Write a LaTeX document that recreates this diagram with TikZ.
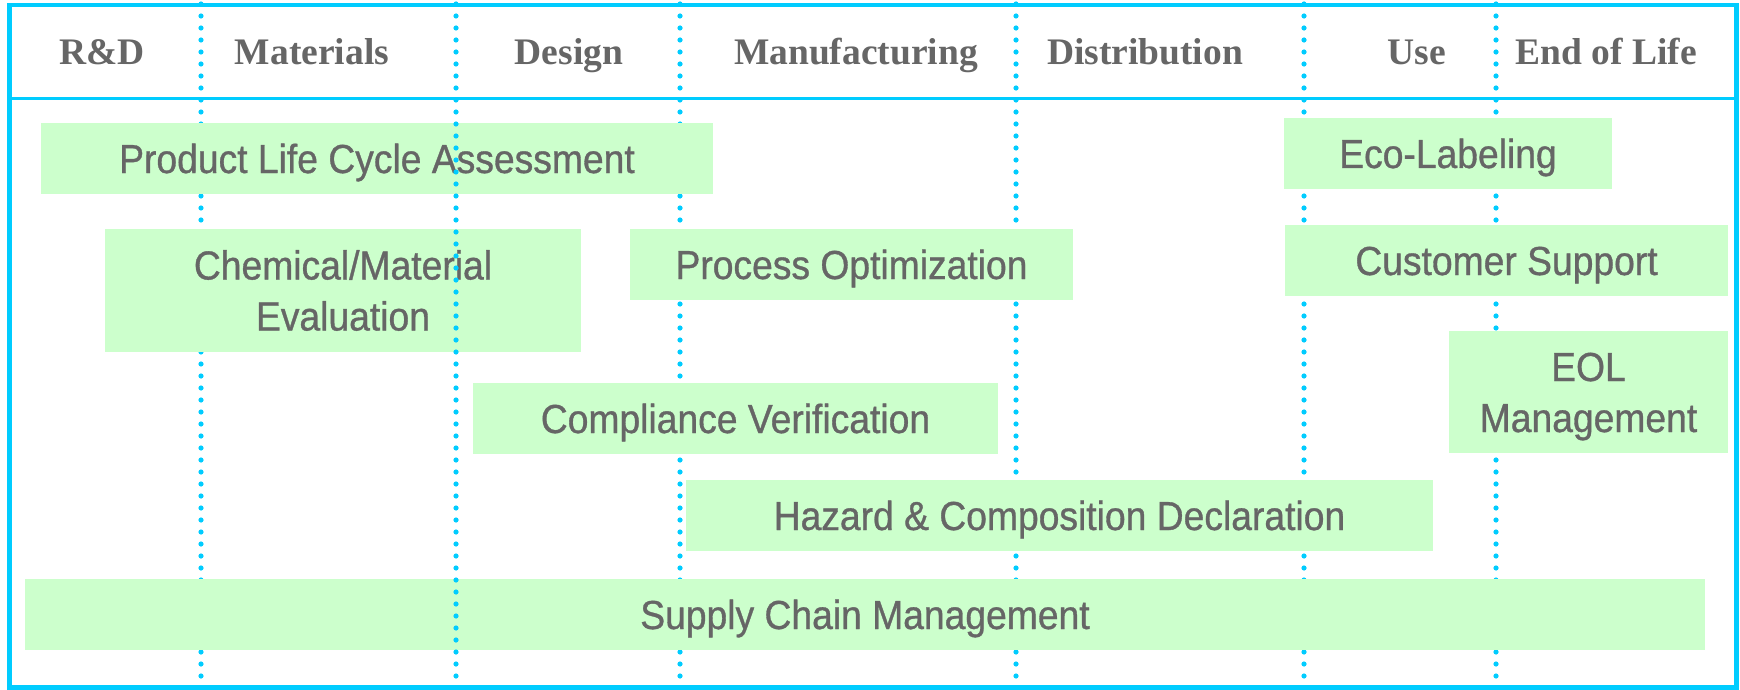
\documentclass[tikz,border=0pt]{standalone}
\usepackage{fontspec}
\newfontfamily\bodyfont[FakeStretch=0.92,FakeBold=0.8]{Liberation Sans}
\newfontfamily\headfont{Liberation Serif}
\definecolor{cyanline}{HTML}{00CCFF}
\definecolor{boxgreen}{HTML}{CCFFCC}
\definecolor{txtgray}{HTML}{666666}
\begin{document}
\begin{tikzpicture}[x=0.5pt,y=-0.5pt,
  frame/.style={draw=cyanline,line width=2.35pt},
  sepline/.style={draw=cyanline,line width=1.35pt},
  dotline/.style={draw=cyanline,line width=2.6pt,line cap=round,dash pattern=on 0pt off 6pt},
  stagebox/.style={fill=boxgreen,draw=none,inner sep=0pt,outer sep=0pt,align=center,text=txtgray,
    minimum height=35.5pt,
    font=\bodyfont\fontsize{20.25}{25.5}\selectfont,text height=14.5pt,text depth=0pt},
  twoline/.style={text height=40pt,text depth=0pt,minimum height=61.5pt},
  head/.style={anchor=base,text=txtgray,inner sep=0pt,
    font=\headfont\bfseries\fontsize{18.75}{22}\selectfont}]
\useasboundingbox (0,0) rectangle (1740,690);

% dotted column separators (behind the boxes)
\foreach \n/\x in {1/201,3/680,4/1016,5/1304,6/1496}{
  \coordinate (t\n) at (\x,4);
  \coordinate (b\n) at (\x,687);
  \draw[dotline] (t\n) -- (b\n);
}

% header labels
\node[head] (h1) at (102,65) {R\&D};
\node[head] (h2) at (312,65) {Materials};
\node[head] (h3) at (569,65) {Design};
\node[head] (h4) at (856,65) {Manufacturing};
\node[head] (h5) at (1145,65) {Distribution};
\node[head] (h6) at (1417,65) {Use};
\node[head] (h7) at (1606,65) {End of Life};

% boxes
\node[stagebox,minimum width=336pt] (plca) at (377,158.5) {Product Life Cycle Assessment};
\node[stagebox,minimum width=164pt] (eco) at (1448,153.5) {Eco-Labeling};
\node[stagebox,twoline,minimum width=238pt] (chem) at (343,290.5) {Chemical/Material\\Evaluation};
\node[stagebox,minimum width=221.5pt] (proc) at (851.5,264.5) {Process Optimization};
\node[stagebox,minimum width=221.5pt] (cust) at (1506.5,260.5) {Customer Support};
\node[stagebox,twoline,minimum width=139.5pt,minimum height=61pt] (eol) at (1588.5,392) {EOL\\Management};
\node[stagebox,minimum width=262.5pt] (comp) at (735.5,418.5) {Compliance Verification};
\node[stagebox,minimum width=373.5pt] (haz) at (1059.5,515.5) {Hazard \& Composition Declaration};
\node[stagebox,minimum width=840pt] (supply) at (865,614.5) {Supply Chain Management};

% the Materials/Design separator lies over the boxes
\coordinate (t2) at (456,4);
\coordinate (b2) at (456,687);
\draw[dotline] (t2) -- (b2);

% header separator and frame
\coordinate (sl) at (9.5,98.7);
\coordinate (sr) at (1736.5,98.7);
\draw[sepline] (sl) -- (sr);
\draw[frame] (9.5,5) rectangle (1736.5,687.5);
\end{tikzpicture}
\end{document}
